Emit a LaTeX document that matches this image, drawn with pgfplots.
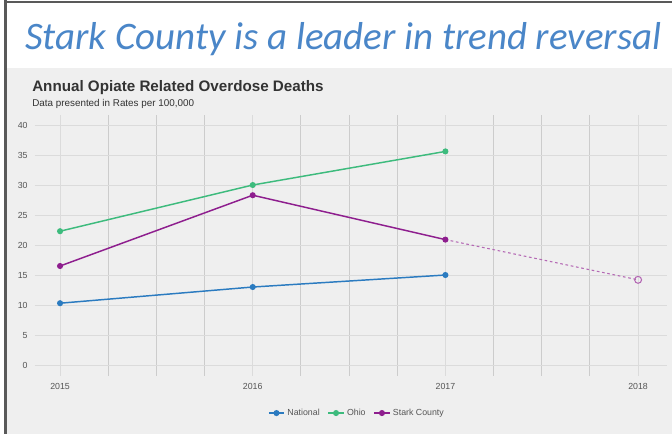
\documentclass[border=0pt]{standalone}
\usepackage{fontspec}
\setmainfont{Liberation Sans}
\newfontfamily\titlefont{Carlito}
\usepackage{pgfplots}
\pgfplotsset{compat=1.18}
\definecolor{natblue}{HTML}{2B7BC0}
\definecolor{ohgreen}{HTML}{3DBB7D}
\definecolor{starkpurple}{HTML}{8E1E8E}
\definecolor{starklight}{HTML}{B468B4}
\definecolor{panelbg}{HTML}{EFEFEF}
\definecolor{titleblue}{HTML}{4A86C8}
\definecolor{textgray}{HTML}{555555}
\begin{document}
\begin{tikzpicture}[x=0.75pt,y=-0.75pt]
\path[use as bounding box] (0,0) rectangle (672,434);
\fill[white] (0,0) rectangle (672,68);
\fill[panelbg] (7,68) rectangle (672,434);
\fill[black!65] (4,0) rectangle (7,434);
\fill[black!65] (4,1) rectangle (672,3.5);
\node[anchor=base west, inner sep=0pt, text=titleblue, font=\titlefont\itshape\fontsize{29.2}{34}\selectfont] at (25,50) {Stark County is a leader in trend reversal};
\node[anchor=base west, inner sep=0pt, text=black!80, font=\bfseries\fontsize{11.4}{13}\selectfont] at (32,92) {Annual Opiate Related Overdose Deaths};
\node[anchor=base west, inner sep=0pt, text=black!80, font=\fontsize{7.4}{8}\selectfont] at (32,107) {Data presented in Rates per 100,000};
\begin{axis}[
  at={(26.25pt,-282pt)}, anchor=south west,
  scale only axis, width=474pt, height=195.75pt,
  xmin=2014.87, xmax=2018.15, ymin=-1.83, ymax=41.67,
  axis line style={draw=none},
  tick style={draw=none},
  xtick={2015,2016,2017,2018},
  minor xtick={2015.25,2015.5,2015.75,2016.25,2016.5,2016.75,2017.25,2017.5,2017.75},
  ytick={0,5,...,40},
  xmajorgrids, xminorgrids, ymajorgrids,
  major x grid style={draw=black!14, line width=0.7pt},
  minor x grid style={draw=black!20, line width=0.7pt},
  major y grid style={draw=black!14, line width=0.7pt},
  /pgf/number format/assume math mode=true,
  /pgf/number format/1000 sep={},
  xticklabel style={font=\fontsize{6.6}{8}\selectfont, text=textgray, yshift=-2pt},
  yticklabel style={font=\fontsize{6.6}{8}\selectfont, text=textgray, xshift=-2pt},
  legend style={at={(axis description cs:0.51,-0.142)}, anchor=center, draw=none, fill=none,
    font=\fontsize{6.6}{8}\selectfont, text=textgray, legend columns=3,
    /tikz/every even column/.append style={column sep=4pt}},
  legend image code/.code={\draw[mark repeat=2,mark phase=2,#1] plot coordinates {(0cm,0cm) (0.2cm,0cm) (0.4cm,0cm)};},
  every axis plot/.append style={line width=1.1pt, mark size=1.7pt},
]
\addplot[color=natblue, mark=*] coordinates {(2015,10.3) (2016,13.0) (2017,15.0)};
\addlegendentry{National}
\addplot[color=ohgreen, mark=*] coordinates {(2015,22.3) (2016,30.0) (2017,35.6)};
\addlegendentry{Ohio}
\addplot[color=starkpurple, mark=*] coordinates {(2015,16.5) (2016,28.3) (2017,20.9)};
\addlegendentry{Stark County}
\addplot[forget plot, color=starklight, line width=0.8pt, dash pattern=on 2pt off 2pt] coordinates {(2017,20.9) (2018,14.2)};
\addplot[forget plot, only marks, color=starklight, mark=o, mark size=2.6pt, line width=0.8pt, fill=none] coordinates {(2018,14.2)};
\end{axis}
\end{tikzpicture}
\end{document}
